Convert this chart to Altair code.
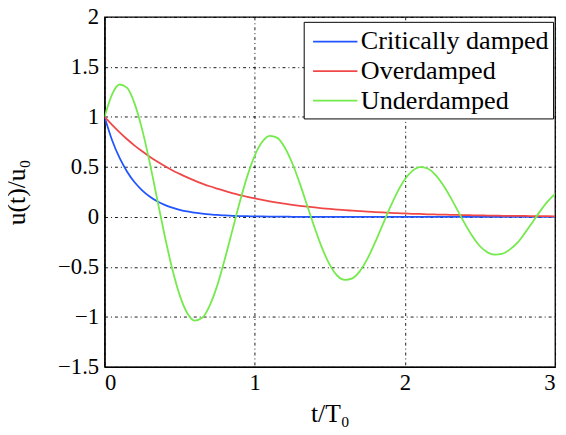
import altair as alt
import pandas as pd

t_values = [round(i * 0.05, 2) for i in range(61)]

critically_damped = [
    1.000, 0.767, 0.589, 0.452, 0.346, 0.266, 0.204, 0.156, 0.120, 0.092,
    0.071, 0.054, 0.042, 0.032, 0.024, 0.019, 0.014, 0.011, 0.008, 0.007,
    0.005, 0.004, 0.003, 0.002, 0.002, 0.001, 0.001, 0.001, 0.001, 0.000,
    0.000, 0.000, 0.000, 0.000, 0.000, 0.000, 0.000, 0.000, 0.000, 0.000,
    0.000, 0.000, 0.000, 0.000, 0.000, 0.000, 0.000, 0.000, 0.000, 0.000,
    0.000, 0.000, 0.000, 0.000, 0.000, 0.000, 0.000, 0.000, 0.000, 0.000,
    0.000,
]

overdamped = [
    1.000, 0.919, 0.845, 0.776, 0.713, 0.656, 0.602, 0.554, 0.509, 0.467,
    0.430, 0.395, 0.363, 0.333, 0.306, 0.282, 0.259, 0.238, 0.218, 0.201,
    0.185, 0.170, 0.156, 0.143, 0.132, 0.121, 0.111, 0.102, 0.094, 0.086,
    0.079, 0.073, 0.067, 0.062, 0.057, 0.052, 0.048, 0.044, 0.040, 0.037,
    0.034, 0.031, 0.029, 0.026, 0.024, 0.022, 0.021, 0.019, 0.017, 0.016,
    0.015, 0.013, 0.012, 0.011, 0.010, 0.009, 0.009, 0.008, 0.007, 0.007,
    0.006,
]

underdamped = [
    1.000, 1.226, 1.324, 1.290, 1.133, 0.875, 0.547, 0.179, -0.186, -0.517,
    -0.783, -0.961, -1.037, -1.010, -0.887, -0.688, -0.426, -0.140, 0.146, 0.405,
    0.613, 0.751, 0.811, 0.790, 0.694, 0.536, 0.335, 0.110, -0.114, -0.317,
    -0.480, -0.589, -0.630, -0.615, -0.543, -0.421, -0.261, -0.086, 0.089, 0.248,
    0.376, 0.460, 0.497, 0.484, 0.425, 0.328, 0.205, 0.067, -0.070, -0.194,
    -0.294, -0.355, -0.378, -0.368, -0.325, -0.258, -0.160, -0.053, 0.055, 0.152,
    0.230,
]

series_names = ["Critically damped", "Overdamped", "Underdamped"]
series_colors = ["#2255ff", "#f04848", "#74ea4c"]
x_ticks = [0, 1, 2, 3]
y_ticks = [-1.5, -1, -0.5, 0, 0.5, 1, 1.5, 2]

rows = []
for name, vals in zip(series_names, [critically_damped, overdamped, underdamped]):
    for t, v in zip(t_values, vals):
        rows.append({"t": t, "u": v, "case": name})
df = pd.DataFrame(rows)

serif = "Liberation Serif"
common_axis = dict(
    grid=True, gridColor="black", gridDash=[3, 3, 1, 3], gridWidth=0.9, gridOpacity=1,
    domain=True, domainColor="black", domainWidth=1.2, ticks=False,
    labelFont=serif, labelFontSize=23, labelColor="black",
    titleFont=serif, titleFontSize=26, titleFontWeight="normal", titleColor="black",
)

chart = alt.Chart(df).mark_line(strokeWidth=1.8, interpolate="monotone", clip=True).encode(
    x=alt.X("t:Q",
            scale=alt.Scale(domain=[0, 3], nice=False, zero=False),
            axis=alt.Axis(values=x_ticks, title="t/T₀", format="d",
                          titlePadding=6, labelPadding=5, **common_axis)),
    y=alt.Y("u:Q",
            scale=alt.Scale(domain=[-1.5, 2], nice=False, zero=False),
            axis=alt.Axis(values=y_ticks, title="u(t)/u₀", format="~g",
                          titlePadding=29, labelPadding=6, **common_axis)),
    color=alt.Color("case:N",
                    scale=alt.Scale(domain=series_names, range=series_colors),
                    sort=series_names,
                    legend=alt.Legend(title=None, orient="none",
                                      legendX=202, legendY=5,
                                      symbolType="M-0.7,0H2.3", symbolSize=900,
                                      symbolStrokeWidth=1.8,
                                      labelFont=serif, labelFontSize=26.5,
                                      labelColor="black",
                                      labelLimit=400, labelOffset=22,
                                      rowPadding=0, padding=4,
                                      strokeColor="black", fillColor="white")),
    order=alt.Order("t:Q"),
).properties(
    width=457, height=355,
    autosize=alt.AutoSizeParams(type="none"),
    padding={"left": 98, "top": 6, "right": 3, "bottom": 58},
).configure_view(
    stroke="black", strokeWidth=1.3
)

chart.save("out.html", embed_options={"renderer": "svg", "actions": False})
